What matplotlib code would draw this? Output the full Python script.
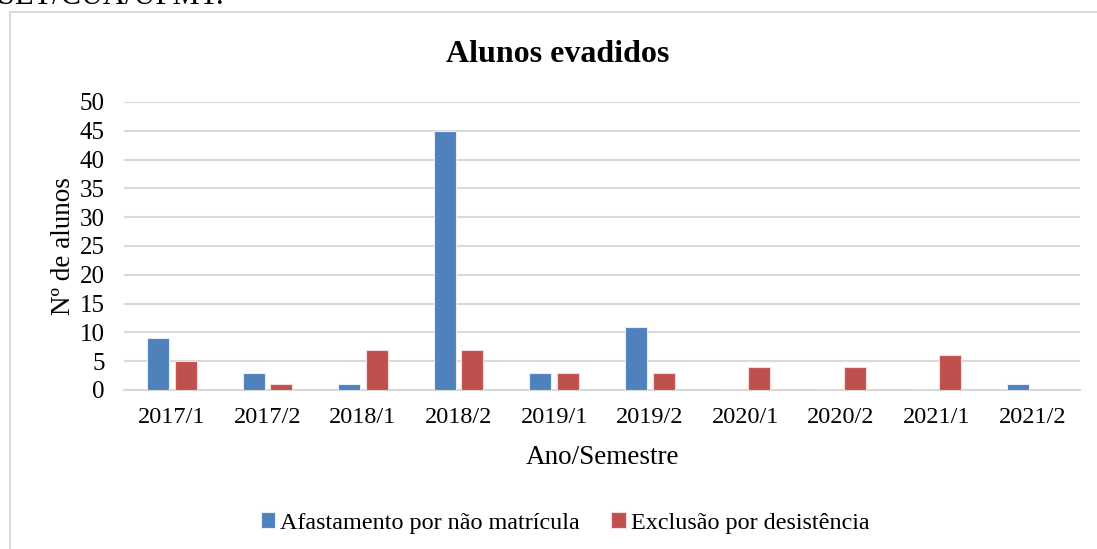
import matplotlib.pyplot as plt
import numpy as np
from matplotlib.patches import Rectangle

semestres = ['2017/1', '2017/2', '2018/1', '2018/2', '2019/1',
             '2019/2', '2020/1', '2020/2', '2021/1', '2021/2']
afastamento = [9, 3, 1, 45, 3, 11, 0, 0, 0, 1]
exclusao = [5, 1, 7, 7, 3, 3, 4, 4, 6, 0]
yticks = [0, 5, 10, 15, 20, 25, 30, 35, 40, 45, 50]

plt.rcParams['font.family'] = ['Liberation Serif', 'DejaVu Serif']

W, H = 1097, 549
fig = plt.figure(figsize=(W / 100, H / 100), dpi=100)

# moldura do grafico (cortada na direita e embaixo)
fig.patches.append(Rectangle((10 / W, -0.1), 1.2, 1.1 - 12 / H,
                             transform=fig.transFigure, fill=False,
                             edgecolor='#d9d9d9', linewidth=1.5))
# resto da linha do texto acima do grafico
fig.text(224 / W, 1 - 3.5 / H, 'SET/CUA/UFMT.', fontsize=22, va='baseline', ha='right')

ax = fig.add_axes([124 / W, 1 - 390 / H, (1080 - 124) / W, (390 - 102) / H])

x = np.arange(len(semestres))
w = 0.23
off = 0.145
ax.bar(x - off, afastamento, w, color='#4f81bd', edgecolor='#e8eef7', linewidth=0.8,
       label='Afastamento por não matrícula', zorder=3)
ax.bar(x + off, exclusao, w, color='#c0504d', edgecolor='#f3dcdb', linewidth=0.8,
       label='Exclusão por desistência', zorder=3)

ax.set_xlim(-0.5, len(semestres) - 0.5)
ax.set_ylim(0, 50)
ax.set_yticks(yticks)
ax.set_xticks(x)
ax.set_xticklabels(semestres)
ax.tick_params(length=0, colors='black')
ax.tick_params(axis='y', pad=14, labelsize=18)
ax.tick_params(axis='x', pad=12, labelsize=17.5)
ax.yaxis.grid(True, color='#d9d9d9', linewidth=1.5, zorder=0)
for s in ['top', 'right', 'left']:
    ax.spines[s].set_visible(False)
ax.spines['bottom'].set_color('#d9d9d9')
ax.spines['bottom'].set_linewidth(1.5)

fig.text(558 / W, 1 - 55 / H, 'Alunos evadidos', fontsize=23, fontweight='bold',
         ha='center', va='center')
ax.set_xlabel('Ano/Semestre', fontsize=19.5, va='center')
ax.set_ylabel('Nº de alunos', fontsize=19.5, va='center')
ax.xaxis.set_label_coords(0.5, (390 - 458) / 288)
ax.yaxis.set_label_coords((63 - 124) / 956, 0.5)

fig.legend(loc='center', bbox_to_anchor=(565 / W, 1 - 523 / H), ncol=2,
           frameon=False, fontsize=17.4, handlelength=0.6, handleheight=0.6,
           handletextpad=0.2, columnspacing=1.3)

fig.savefig('out.png', dpi=100)
